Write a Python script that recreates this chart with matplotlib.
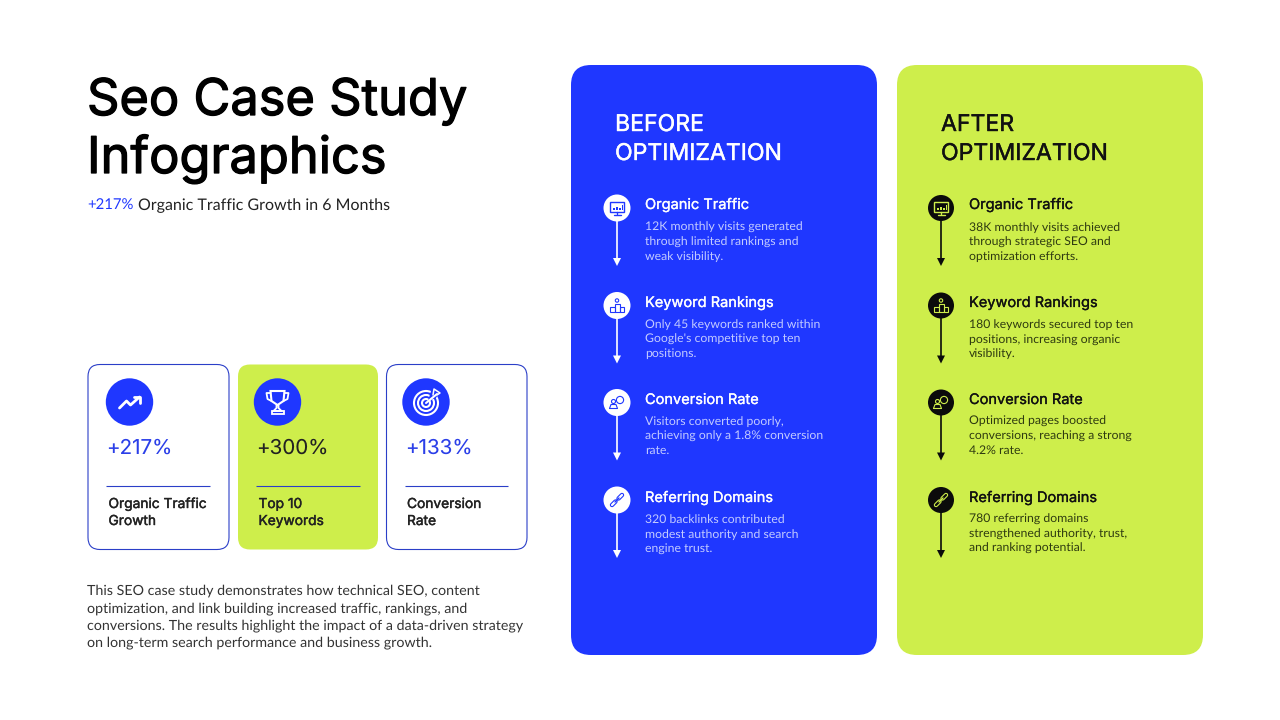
import matplotlib
matplotlib.use("Agg")
import matplotlib.pyplot as plt
import matplotlib.patheffects as pe
from matplotlib.patches import FancyBboxPatch, Circle, Rectangle, Polygon

plt.rcParams["text.hinting"] = "no_hinting"
plt.rcParams["text.hinting_factor"] = 8

BLUE = "#1F37FF"
LIME = "#CEEE4B"
INK = "#222222"

title_lines = ["Seo Case Study", "Infographics"]
sub_value = "+217%"
sub_text = "Organic Traffic Growth in 6 Months"
card_values = ["+217%", "+300%", "+133%"]
card_labels = [["Organic Traffic", "Growth"], ["Top 10", "Keywords"], ["Conversion", "Rate"]]
body_lines = [
    "This SEO case study demonstrates how technical SEO, content",
    "optimization, and link building increased traffic, rankings, and",
    "conversions. The results highlight the impact of a data-driven strategy",
    "on long-term search performance and business growth.",
]
metrics = ["Organic Traffic", "Keyword Rankings", "Conversion Rate", "Referring Domains"]
before_head = ["BEFORE", "OPTIMIZATION"]
after_head = ["AFTER", "OPTIMIZATION"]
before_desc = [
    ["12K monthly visits generated", "through limited rankings and", "weak visibility."],
    ["Only 45 keywords ranked within", "Google's competitive top ten", "positions."],
    ["Visitors converted poorly,", "achieving only a 1.8% conversion", "rate."],
    ["320 backlinks contributed", "modest authority and search", "engine trust."],
]
after_desc = [
    ["38K monthly visits achieved", "through strategic SEO and", "optimization efforts."],
    ["180 keywords secured top ten", "positions, increasing organic", "visibility."],
    ["Optimized pages boosted", "conversions, reaching a strong", "4.2% rate."],
    ["780 referring domains", "strengthened authority, trust,", "and ranking potential."],
]

HEAD_FONT = ["Inter", "DejaVu Sans"]
BODY_FONT = ["Lato", "DejaVu Sans"]

fig = plt.figure(figsize=(12.8, 7.2), dpi=100, facecolor="white")
ax = fig.add_axes([0, 0, 1, 1])
ax.set_xlim(0, 1280)
ax.set_ylim(720, 0)
ax.axis("off")


def rbox(x0, y0, x1, y1, r, fc, ec="none", lw=0, z=1):
    ax.add_patch(FancyBboxPatch((x0, y0), x1 - x0, y1 - y0,
                                boxstyle=f"round,pad=0,rounding_size={r}",
                                fc=fc, ec=ec, lw=lw, zorder=z))


def txt(x, y, s, size, color, font=BODY_FONT, embolden=0):
    t = ax.text(x, y, s, fontsize=size, color=color, family=font,
                va="baseline", ha="left", zorder=5)
    if embolden:
        t.set_path_effects([pe.withStroke(linewidth=embolden, foreground=color)])
    return t


def ln(xs, ys, color, lw=1.2, z=6):
    ax.plot(xs, ys, color=color, lw=lw, solid_capstyle="round", solid_joinstyle="round", zorder=z)


def icon_monitor(cx, cy, c, bg):
    ax.add_patch(Rectangle((cx - 7, cy - 6.5), 14, 10, fc=bg, ec=c, lw=1, zorder=6))
    for dx, h in zip((-4, -1, 2, 4.5), (2, 3, 2.5, 5)):
        ax.add_patch(Rectangle((cx + dx, cy + 2 - h), 1.6, h, fc=c, ec="none", zorder=7))
    ln([cx, cx], [cy + 3.5, cy + 6], c, 1)
    ln([cx - 3.5, cx + 3.5], [cy + 6.5, cy + 6.5], c, 1)


def icon_podium(cx, cy, c, bg):
    ax.add_patch(Rectangle((cx - 2.5, cy - 2), 5, 8, fc="none", ec=c, lw=0.8, zorder=6))
    ax.add_patch(Rectangle((cx - 7, cy + 1), 4.5, 5, fc="none", ec=c, lw=0.8, zorder=6))
    ax.add_patch(Rectangle((cx + 2.5, cy + 1), 4.5, 5, fc="none", ec=c, lw=0.8, zorder=6))
    ax.add_patch(Circle((cx, cy - 5), 1.7, fc="none", ec=c, lw=0.8, zorder=6))


def icon_people(cx, cy, c, bg):
    ax.add_patch(Circle((cx + 3, cy - 2.5), 3.6, fc="none", ec=c, lw=0.8, zorder=6))
    ax.add_patch(Circle((cx - 3.5, cy - 1), 2, fc="none", ec=c, lw=0.8, zorder=6))
    ln([cx - 7.5, cx - 6, cx - 1, cx + 0.5, cx - 7.5], [cy + 6, cy + 2, cy + 2, cy + 6, cy + 6], c, 0.8)


def icon_link(cx, cy, c, bg):
    ln([cx - 5, cx - 1.5], [cy + 5, cy + 1.5], c, 3.2)
    ln([cx + 1.5, cx + 5], [cy - 1.5, cy - 5], c, 3.2)
    ln([cx - 5, cx - 1.5], [cy + 5, cy + 1.5], bg, 1.6, 7)
    ln([cx + 1.5, cx + 5], [cy - 1.5, cy - 5], bg, 1.6, 7)
    ln([cx - 2, cx + 2], [cy + 2, cy - 2], c, 1, 8)


ICONS = [icon_monitor, icon_podium, icon_people, icon_link]

# Left column
for s, y in zip(title_lines, [115, 173]):
    txt(87, y, s, 36.4, "#000000", HEAD_FONT, 0.9)
txt(87, 210, sub_value, 10.7, BLUE)
txt(138, 210, sub_text, 11.5, INK)

card_x = [(88, 229), (238, 378), (386.5, 527)]
card_cx = [129.5, 277.5, 426]
for i, (x0, x1) in enumerate(card_x):
    if i == 1:
        rbox(x0, 364.5, x1, 549.5, 12, LIME)
    else:
        rbox(x0, 364.5, x1, 549.5, 12, "white", "#2B3FC8", 0.8)
    ax.add_patch(Circle((card_cx[i], 402), 23.7, fc=BLUE, ec="none", zorder=3))
    col = INK if i == 1 else "#2B3FE8"
    txt(x0 + 18.5, 454, card_values[i], 14.8, col, HEAD_FONT)
    ax.plot([x0 + 18, x0 + 121.5], [485.5, 485.5], color="#2B3FC8", lw=0.8,
            solid_capstyle="butt", zorder=4)
    for s, y in zip(card_labels[i], [508, 525]):
        txt(x0 + 20.5, y, s, 9.9, INK, HEAD_FONT, 0.3)

# Card icons
cx, cy = card_cx[0], 402
ln([cx - 10, cx - 3, cx + 1, cx + 10], [cy + 6, cy - 1, cy + 3, cy - 5], "white", 2)
ln([cx + 4, cx + 10, cx + 10], [cy - 5, cy - 5, cy + 1], "white", 2)

cx = card_cx[1]
ax.add_patch(Polygon([(cx - 7, cy - 11), (cx + 7, cy - 11), (cx + 6, cy - 1), (cx, cy + 3), (cx - 6, cy - 1)],
                     closed=True, fc="none", ec="white", lw=1.5, zorder=6))
ln([cx - 7, cx - 11, cx - 10, cx - 6], [cy - 9, cy - 9, cy - 3, cy - 1], "white", 1.3)
ln([cx + 7, cx + 11, cx + 10, cx + 6], [cy - 9, cy - 9, cy - 3, cy - 1], "white", 1.3)
ln([cx - 1, cx - 1, cx - 4, cx + 4, cx + 1, cx + 1], [cy + 3, cy + 6, cy + 9, cy + 9, cy + 6, cy + 3], "white", 1.3)
ax.add_patch(Rectangle((cx - 6, cy + 9), 12, 3, fc="none", ec="white", lw=1.3, zorder=6))

cx = card_cx[2]
for r in (12, 8, 4):
    ax.add_patch(Circle((cx, cy + 1), r, fc="none", ec="white", lw=1.5, zorder=6))
ax.add_patch(Polygon([(cx + 5, cy - 11), (cx + 14, cy - 11), (cx + 10, cy - 4), (cx + 2, cy - 1)],
                     closed=True, fc=BLUE, ec="none", zorder=7))
ln([cx, cx + 11], [cy + 1, cy - 8], "white", 1.5, 8)
ln([cx + 7, cx + 8, cx + 14, cx + 11], [cy - 7, cy - 13, cy - 9, cy - 7], "white", 1.1, 8)

for s, y in zip(body_lines, [595, 612, 629, 646]):
    txt(87, y, s, 10.3, "#333333")

# Right panels
title_ys = [209, 307, 404, 502]
icon_ys = [208, 305.5, 402.5, 500]
desc_ys = [[231, 246, 260], [328, 343, 357], [425, 440, 454], [523, 538, 552]]
panels = [
    dict(x0=571, x1=877, bg=BLUE, fg="white", sub="#C3CBFF", head=before_head, desc=before_desc,
         hx=615, ix=617, tx=645, disc="white", glyph=BLUE, r=13.5),
    dict(x0=897, x1=1203, bg=LIME, fg="#111111", sub="#2E3A10", head=after_head, desc=after_desc,
         hx=941, ix=941, tx=969, disc="#0B0B0B", glyph=LIME, r=13),
]
for p in panels:
    rbox(p["x0"], 65, p["x1"], 655, 20, p["bg"])
    for s, y in zip(p["head"], [131, 160]):
        txt(p["hx"], y, s, 16.6, p["fg"], HEAD_FONT, 0.3)
    for i, name in enumerate(metrics):
        yc = icon_ys[i]
        ax.plot([p["ix"], p["ix"]], [yc, yc + 52], color=p["disc"], lw=1.2, zorder=3)
        ax.add_patch(Polygon([(p["ix"] - 4, yc + 50), (p["ix"] + 4, yc + 50), (p["ix"], yc + 58)],
                             closed=True, fc=p["disc"], ec="none", zorder=3))
        ax.add_patch(Circle((p["ix"], yc), p["r"], fc=p["disc"], ec="none", zorder=4))
        ICONS[i](p["ix"], yc, p["glyph"], p["disc"])
        txt(p["tx"], title_ys[i], name, 10.5, p["fg"], HEAD_FONT, 0.2)
        for s, y in zip(p["desc"][i], desc_ys[i]):
            txt(p["tx"], y, s, 8.8, p["sub"])

fig.savefig("out.png", dpi=100, facecolor="white")
